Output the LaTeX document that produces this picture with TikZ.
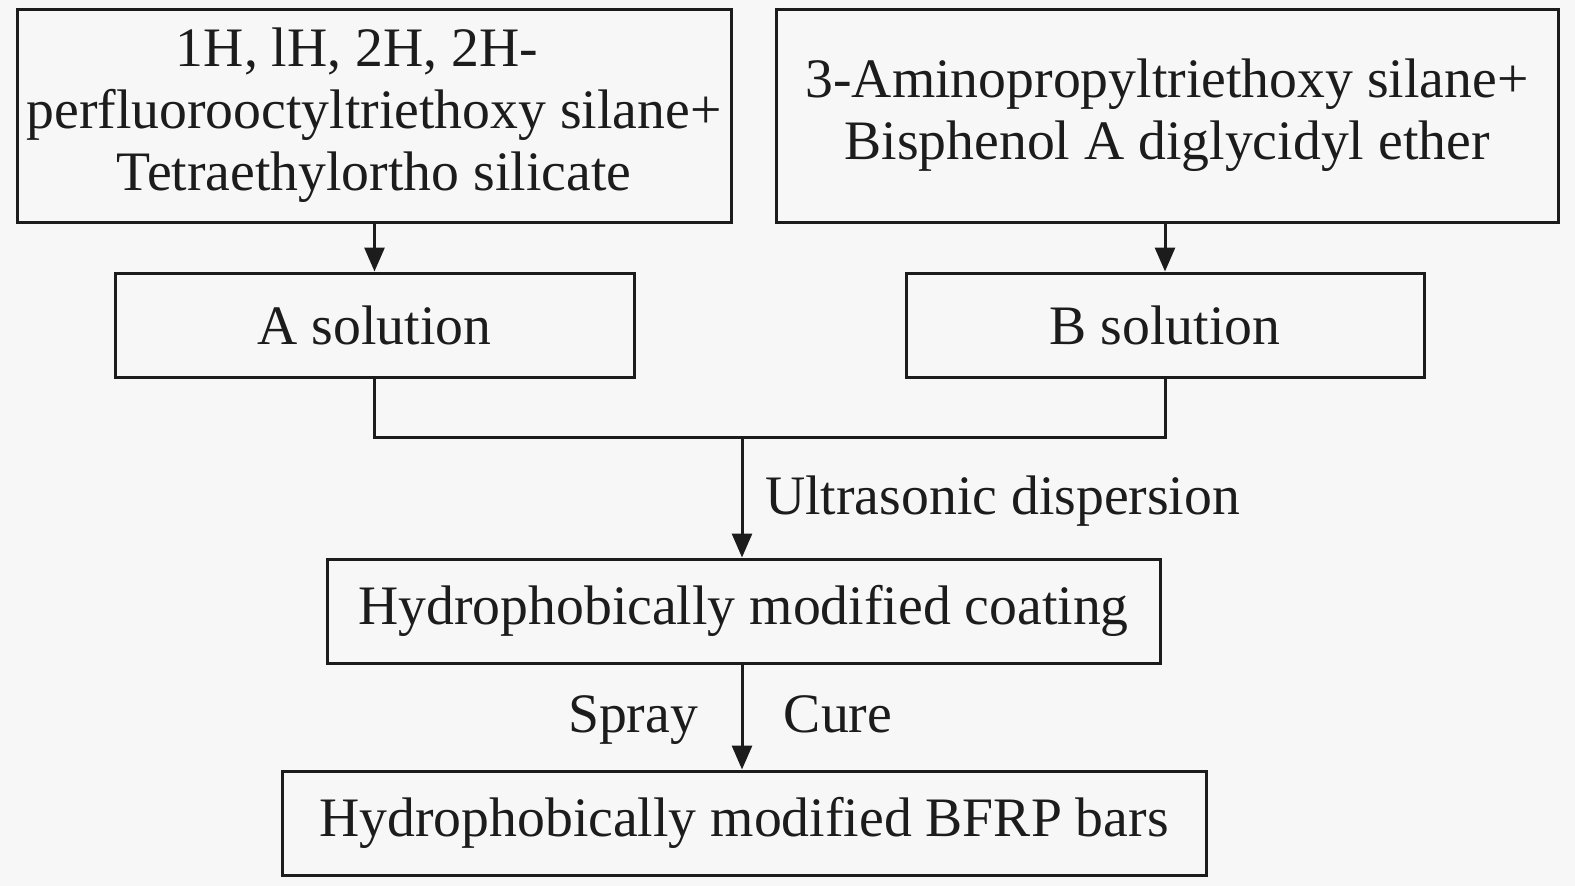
\documentclass[tikz,border=0pt]{standalone}
\usepackage{fontspec}
\setmainfont{Liberation Serif}
\usetikzlibrary{arrows.meta}
\definecolor{bg}{RGB}{247,247,247}
\definecolor{ink}{RGB}{28,28,28}
\begin{document}
\begin{tikzpicture}[x=1pt,y=-1pt,
  box/.style={draw=ink,line width=3pt,rectangle,inner sep=0pt,align=center,
    text=ink,font=\fontsize{55.7}{62}\selectfont},
  lbl/.style={text=ink,font=\fontsize{55.7}{62}\selectfont,inner sep=0pt,anchor=base},
  conn/.style={draw=ink,line width=3pt},
  arr/.style={conn,-{Triangle[length=24pt,width=20pt]}}]
\fill[bg] (0,0) rectangle (1575,886);
\useasboundingbox (0,0) rectangle (1575,886);
\node[box,minimum width=714pt,minimum height=213pt] (b1) at (374,115.5)
  {1H, lH, 2H, 2H-\hspace*{34pt}\\perfluorooctyltriethoxy silane+\\Tetraethylortho silicate};
\node[box,minimum width=782pt,minimum height=213pt] (b2) at (1167,115.5)
  {3-Aminopropyltriethoxy silane+\\Bisphenol A diglycidyl ether};
\node[box,minimum width=519pt,minimum height=104pt] (A) at (374.5,325) {A solution};
\node[box,minimum width=518pt,minimum height=104pt] (B) at (1165,325) {B solution};
\node[box,minimum width=833pt,minimum height=104pt] (C) at (743.5,611) {Hydrophobically modified coating};
\node[box,minimum width=924pt,minimum height=104pt] (D) at (744,823) {Hydrophobically modified BFRP bars};
\coordinate (m) at (742,437);
\draw[arr] (b1.south -| A.south) -- (A.north);
\draw[arr] (b2.south -| B.south) -- (B.north);
\draw[conn] (A.south) -- (A.south |- m) -- (B.south |- m) -- (B.south);
\draw[arr] (m) -- (m |- C.north);
\draw[arr] (C.south -| m) -- (D.north -| m);
\node[lbl,anchor=base west] (u) at (765,514) {Ultrasonic dispersion};
\node[lbl] (s) at (633,732) {Spray};
\node[lbl] (c) at (838,732) {Cure};
\end{tikzpicture}
\end{document}
